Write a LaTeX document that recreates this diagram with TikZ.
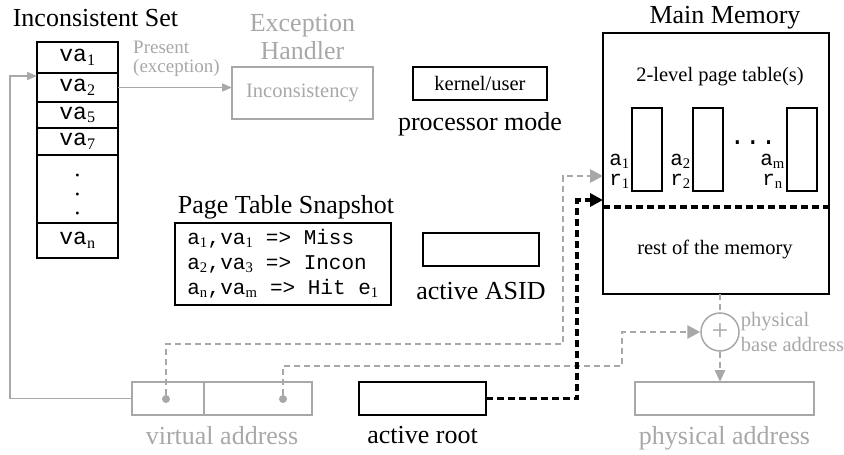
\documentclass[tikz,border=0pt]{standalone}
\usepackage{fontspec}
\setmainfont{Liberation Serif}
\setmonofont{Liberation Mono}
\usetikzlibrary{positioning,arrows.meta}
\definecolor{lightgr}{RGB}{168,168,168}
\newcommand{\idx}[1]{\textsubscript{\rmfamily #1}}

\begin{document}
\begin{tikzpicture}[x=1pt, y=-1pt, node distance=0pt,
	bx/.style={draw, line width=2pt, inner sep=0pt, outer sep=0pt},
	gbx/.style={draw=lightgr, line width=1.5pt, inner sep=0pt, outer sep=0pt, text=lightgr},
	ttl/.style={font=\fontsize{26}{28}\selectfont},
	txt/.style={font=\fontsize{20.5}{24}\selectfont},
	mono/.style={font=\fontsize{21}{25}\selectfont\ttfamily},
	lbl/.style={mono, inner sep=1pt},
	cell/.style={bx, font=\fontsize{23}{25}\selectfont\ttfamily, minimum width=81pt},
	pnt/.style={font=\fontsize{12}{12}\selectfont, inner sep=0pt},
	gtxt/.style={text=lightgr, inner sep=0pt, font=\fontsize{19}{22}\selectfont},
	gline/.style={draw=lightgr, line width=1.5pt, -{Triangle[length=10pt,width=8pt]}},
	gdash/.style={draw=lightgr, line width=2.8pt, dash pattern=on 6pt off 4pt},
	bdash/.style={draw=black, line width=3.4pt, dash pattern=on 7pt off 4pt},
	arr/.style={-{Triangle[length=13pt,width=13pt]}}]
	\useasboundingbox (0,0) rectangle (844,455);

	% inconsistent set
	\node[ttl, anchor=base] (settitle) at (95.5,26) {Inconsistent Set};
	\node[cell, minimum height=31pt] (va1) at (77.5,57.5) {va\idx1};
	\node[cell, minimum height=29pt, below=of va1] (va2) {va\idx2};
	\node[cell, minimum height=26pt, below=of va2] (va5) {va\idx5};
	\node[cell, minimum height=27pt, below=of va5] (va7) {va\idx7};
	\node[cell, minimum height=68pt, below=of va7] (vdots) {};
	\node[pnt] (p1) at (77.5,177) {\textbullet};
	\node[pnt, below=13pt of p1] (p2) {\textbullet};
	\node[pnt, below=13pt of p2] (p3) {\textbullet};
	\node[cell, minimum height=35pt, below=of vdots] (van) {va\idx n};

	% exception handler
	\node[gbx, txt, minimum width=141pt, minimum height=52pt] (exc) at (302.5,93) {Inconsistency};
	\node[ttl, text=lightgr, align=center, above=4pt of exc] (exctitle) {Exception\\Handler};
	\node[gtxt, anchor=base west] (present) at (133,53) {Present};
	\node[gtxt, below=6pt of present.south west, anchor=north west] (excword) {(exception)};
	\draw[gline] (va2.east) -- (va2.east -| exc.west);

	% processor mode, asid, snapshot
	\node[bx, txt, minimum width=134pt, minimum height=33pt] (mode) at (480,83.5) {kernel/user};
	\node[ttl, below=9pt of mode] (modelabel) {processor mode};
	\node[bx, minimum width=116pt, minimum height=33pt] (asid) at (481,249.5) {};
	\node[ttl, below=13pt of asid] (asidlabel) {active ASID};
	\node[bx, align=left, minimum width=216pt, minimum height=82pt, font=\fontsize{21}{25}\selectfont\ttfamily] (snap) at (283,264) {a\idx1,va\idx1 => Miss\\a\idx2,va\idx3 => Incon\\a\idx n,va\idx m => Hit e\idx1};
	\node[ttl, above=0pt of snap, xshift=3pt] (snaptitle) {Page Table Snapshot};

	% main memory
	\node[bx, minimum width=226pt, minimum height=261pt] (mem) at (716,163.5) {};
	\node[ttl, above=0pt of mem, xshift=9pt] (memtitle) {Main Memory};
	\node[txt] (pttitle) at (720,77) {2-level page table(s)};
	\node[txt] (rest) at (715,249) {rest of the memory};
	\coordinate (split) at (716,207);
	\draw[bdash] (split -| mem.west) -- (split -| mem.east);
	\node[bx, line width=1.5pt, minimum width=30pt, minimum height=83pt] (pt1) at (647,149.5) {};
	\node[bx, line width=1.5pt, minimum width=30pt, minimum height=83pt] (pt2) at (708,149.5) {};
	\node[bx, line width=1.5pt, minimum width=30pt, minimum height=83pt] (pt3) at (802,149.5) {};
	\node[lbl, left=1pt of pt1, yshift=-12pt] (a1) {a\idx1};
	\node[lbl, below=3pt of a1] (r1) {r\idx1};
	\node[lbl, left=1pt of pt2, yshift=-12pt] (a2) {a\idx2};
	\node[lbl, below=3pt of a2] (r2) {r\idx2};
	\node[lbl, left=1pt of pt3, yshift=-12pt] (am) {a\idx m};
	\node[lbl, below=3pt of am] (rn) {r\idx n};
	\node[font=\fontsize{26}{26}\selectfont\ttfamily, inner sep=0pt] (ptdots) at (753,143) {...};

	% addresses
	\node[gbx, minimum width=72pt, minimum height=33pt] (vlo) at (168,398.5) {};
	\node[gbx, minimum width=108pt, minimum height=33pt, right=of vlo] (vhi) {};
	\path (vlo.south west) -- (vhi.south east) node[midway, below=8pt, ttl, text=lightgr] (vlabel) {virtual address};
	\node[circle, fill=lightgr, inner sep=0pt, minimum size=8pt] (d1) at (166,399) {};
	\node[circle, fill=lightgr, inner sep=0pt, minimum size=8pt] (d2) at (283,399) {};
	\node[bx, minimum width=127pt, minimum height=33pt] (root) at (422.5,398.5) {};
	\node[ttl, below=8pt of root] (rootlabel) {active root};
	\node[gbx, minimum width=179pt, minimum height=33pt] (paddr) at (724.5,398.5) {};
	\node[ttl, text=lightgr, below=8pt of paddr] (plabel) {physical address};
	\node[circle, draw=lightgr, line width=1.5pt, minimum size=38pt, inner sep=0pt, text=lightgr, font=\fontsize{30}{30}\selectfont] (plus) at (720,332) {+};
	\node[text=lightgr, align=left, inner sep=0pt, right=1pt of plus, font=\fontsize{20.5}{25}\selectfont] (baselabel) {physical\\base address};

	% connectors
	\coordinate (loop) at (10,76);
	\draw[gline] (vlo.west) -| (loop) -- (loop -| va1.west);
	\coordinate (g1) at (563,344);
	\coordinate (memin) at (603,176);
	\draw[gdash, arr] (d1.north) |- (g1) |- (memin);
	\coordinate (g2) at (622,366);
	\draw[gdash, arr] (d2.north) |- (g2) |- (plus.west);
	\coordinate (bturn) at (577,200);
	\coordinate (rootin) at (603,200);
	\draw[bdash, arr] (root.east) -| (bturn) -- (rootin);
	\draw[gdash] (plus |- mem.south) -- (plus.north);
	\draw[gdash, -{Triangle[length=12pt,width=10pt]}] (plus.south) -- (plus |- paddr.north);
\end{tikzpicture}
\end{document}
